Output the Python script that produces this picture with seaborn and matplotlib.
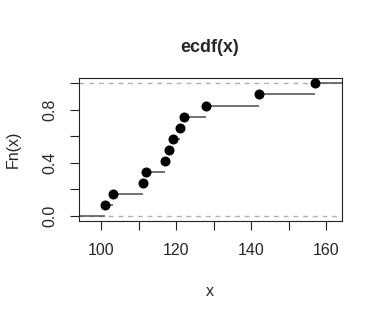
import numpy as np
import pandas as pd
import matplotlib
matplotlib.use("Agg")
import matplotlib.pyplot as plt
import seaborn as sns

x_values = [101, 103, 111, 112, 117, 118, 119, 121, 122, 128, 142, 157]
fn_values = [1/12, 2/12, 3/12, 4/12, 5/12, 6/12, 7/12, 8/12, 9/12, 10/12, 11/12, 12/12]
x_ticks = [100, 110, 120, 130, 140, 150, 160]
x_ticklabels = ["100", "", "120", "", "140", "", "160"]
y_ticks = [0.0, 0.2, 0.4, 0.6, 0.8, 1.0]
y_ticklabels = ["0.0", "", "0.4", "", "0.8", ""]

df = pd.DataFrame({"x": x_values, "Fn": fn_values})

sns.set_style("white")
plt.rcParams["font.family"] = ["Liberation Sans", "DejaVu Sans"]

fig = plt.figure(figsize=(3.82, 3.19), dpi=100)
ax = fig.add_axes([0.206, 0.307, 0.688, 0.448])

xlim = (93.92, 164.08)
ylim = (-0.04, 1.04)

# horizontal reference lines
for yv in (0.0, 1.0):
    ax.axhline(yv, color="#b0b0b0", lw=1.0, dashes=(3.5, 3.5), zorder=1)

# step segments
starts = [xlim[0] - 10] + x_values
ends = x_values + [xlim[1] + 10]
levels = [0.0] + fn_values
ax.hlines(levels, starts, ends, color="#5a5a5a", lw=1.2, zorder=2)

sns.scatterplot(data=df, x="x", y="Fn", ax=ax, color="black", s=52,
                edgecolor="black", linewidth=0, zorder=3, legend=False)

ax.set_xlim(*xlim)
ax.set_ylim(*ylim)
ax.set_xticks(x_ticks)
ax.set_xticklabels(x_ticklabels, fontsize=11.5)
ax.set_yticks(y_ticks)
ax.set_yticklabels(y_ticklabels, fontsize=11.5, rotation=90, va="center")
ax.tick_params(axis="both", direction="out", length=6.5, width=0.8,
               color="#222222", pad=9, bottom=True, left=True)

for sp in ax.spines.values():
    sp.set_color("#222222")
    sp.set_linewidth(0.8)

ax.set_title("ecdf(x)", fontsize=13, fontweight="bold", pad=19)
ax.set_xlabel("x", fontsize=11.5, va="center")
ax.set_ylabel("Fn(x)", fontsize=11.5, va="center")
ax.xaxis.set_label_coords(0.5, -0.49)
ax.yaxis.set_label_coords(-0.25, 0.5)

fig.savefig("out.png", dpi=100)
